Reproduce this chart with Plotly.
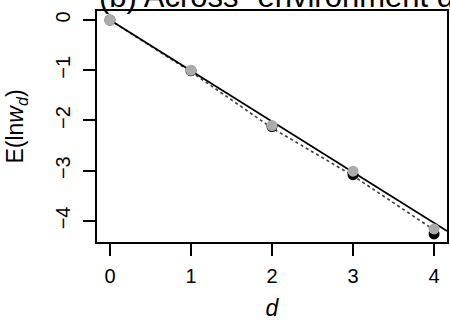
import plotly.graph_objects as go

d = [0, 1, 2, 3, 4]
black_vals = [0.0, -1.01, -2.12, -3.08, -4.26]
gray_vals = [0.0, -1.0, -2.10, -3.01, -4.16]
dotted_vals = [0.0, -1.03, -2.15, -3.10, -4.18]
fit_d = [0, 4.16]
fit_vals = [0.0, -4.20]
x_ticks = [0, 1, 2, 3, 4]
y_ticks = [0, -1, -2, -3, -4]
y_ticklabels = ["0", "\u22121", "\u22122", "\u22123", "\u22124"]

fig = go.Figure()
fig.add_trace(go.Scatter(x=d, y=dotted_vals, mode="lines",
                         line=dict(color="#444444", width=1.7, dash="dot")))
fig.add_trace(go.Scatter(x=fit_d, y=fit_vals, mode="lines",
                         line=dict(color="black", width=1.8)))
fig.add_trace(go.Scatter(x=d, y=black_vals, mode="markers",
                         marker=dict(color="black", size=11)))
fig.add_trace(go.Scatter(x=d, y=gray_vals, mode="markers",
                         marker=dict(color="#ABABAB", size=11)))

font = dict(family="Liberation Sans, Arial, sans-serif", color="black", size=20)

fig.update_layout(
    width=450, height=321, showlegend=False,
    margin=dict(l=97, r=1, t=11, b=78),
    plot_bgcolor="white", paper_bgcolor="white",
    font=font,
    xaxis=dict(range=[-0.16, 4.16], tickvals=x_ticks, ticktext=[str(v) for v in x_ticks],
               showgrid=False, zeroline=False, showline=True, mirror=True,
               linecolor="black", linewidth=1.5, ticks="outside", ticklen=12,
               tickwidth=1.5, tickcolor="black", ticklabelstandoff=3,
               tickfont=dict(size=20, color="black"),
               title=dict(text="<i>d</i>", standoff=17, font=dict(size=23, color="black"))),
    yaxis=dict(range=[-4.42, 0.18], tickvals=y_ticks, ticktext=y_ticklabels,
               tickangle=-90,
               showgrid=False, zeroline=False, showline=True, mirror=True,
               linecolor="black", linewidth=1.5, ticks="outside", ticklen=12,
               tickwidth=1.5, tickcolor="black", ticklabelstandoff=5,
               tickfont=dict(size=20, color="black"),
               title=dict(text="E(ln<i>w</i><sub><i>d</i></sub>)", standoff=22,
                          font=dict(size=23, color="black"))),
    annotations=[dict(text="(b) Across- environment dispersal", xref="paper", yref="paper",
                      x=0, y=1, xanchor="left", yanchor="bottom", yshift=-5,
                      showarrow=False, font=dict(size=31, color="black"))],
)

fig.write_html("out.html")
